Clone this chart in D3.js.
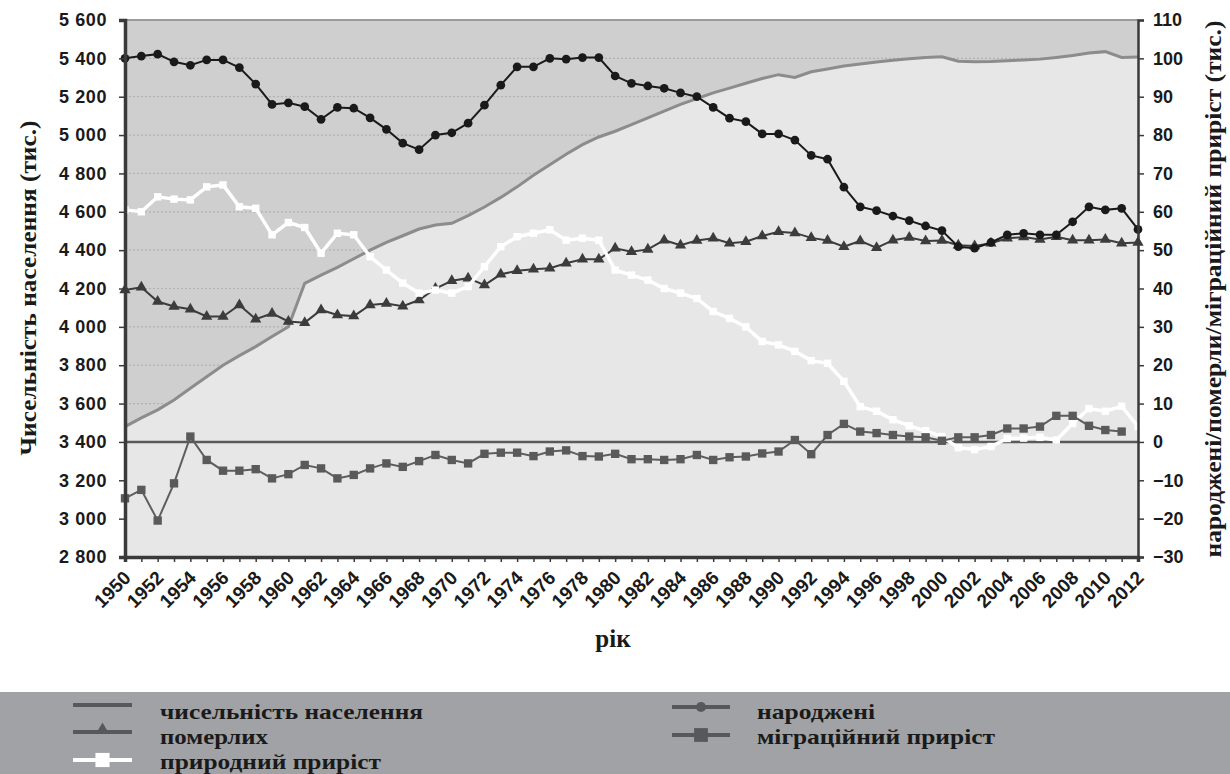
<!DOCTYPE html>
<html>
<head>
<meta charset="UTF-8">
<script src="https://cdn.jsdelivr.net/npm/d3@7/dist/d3.min.js"></script>
<style>
  body { margin: 0; background: #fff; }
  .tick text { font-family: "Liberation Sans", Arial, sans-serif; font-weight: bold; fill: #1a1a1a; }
  .ttl { font-family: "Liberation Serif", "Times New Roman", serif; font-weight: bold; fill: #1a1a1a; }
</style>
</head>
<body>
<div id="chart"></div>
<script>
// роки 1950-2012
var years = d3.range(1950, 2013);

// чисельність населення (тис.), ліва вісь
var population = [3480, 3525, 3567, 3619, 3680, 3740, 3800, 3850, 3897, 3950,
  4001, 4227, 4270, 4310, 4355, 4400, 4440, 4475, 4510, 4531,
  4540, 4580, 4625, 4675, 4730, 4790, 4845, 4900, 4950, 4990,
  5020, 5055, 5090, 5125, 5160, 5190, 5220, 5245, 5270, 5295,
  5315, 5300, 5330, 5345, 5360, 5370, 5381, 5390, 5398, 5405,
  5408, 5385, 5382, 5384, 5388, 5392, 5396, 5405, 5415, 5428,
  5435, 5405, 5407];

// народжені (тис.), права вісь
var born = [100.0, 100.6, 101.1, 99.1, 98.2, 99.6, 99.6, 97.6, 93.3, 88.0,
  88.4, 87.4, 84.1, 87.2, 87.0, 84.5, 81.5, 77.9, 76.2, 80.0,
  80.6, 83.1, 87.8, 93.0, 97.8, 97.8, 100.0, 99.8, 100.2, 100.2,
  95.4, 93.5, 92.8, 92.2, 91.0, 90.0, 87.2, 84.4, 83.5, 80.3,
  80.3, 78.7, 74.7, 73.7, 66.4, 61.3, 60.3, 58.9, 57.7, 56.3,
  55.1, 50.9, 50.5, 52.0, 54.0, 54.4, 54.0, 54.0, 57.4, 61.3,
  60.5, 60.9, 55.4];

// померлих (тис.)
var died = [39.6, 40.3, 36.6, 35.3, 34.6, 32.7, 32.7, 35.7, 32.0, 33.5,
  31.4, 31.1, 34.4, 33.1, 32.8, 35.7, 36.1, 35.4, 37.0, 40.0,
  42.0, 42.7, 40.9, 43.7, 44.6, 45.0, 45.3, 46.6, 47.6, 47.6,
  50.5, 49.6, 50.2, 52.6, 51.3, 52.5, 53.1, 51.8, 52.2, 53.7,
  54.8, 54.5, 53.2, 52.5, 50.9, 52.4, 50.6, 52.6, 53.3, 52.4,
  52.5, 51.3, 51.1, 51.8, 53.1, 53.4, 52.8, 53.5, 52.6, 52.6,
  52.8, 51.8, 52.0];

// природний приріст (тис.)
var natural = [60.5, 60.0, 63.9, 63.3, 63.1, 66.5, 67.0, 61.3, 60.9, 54.0,
  57.2, 55.9, 49.2, 54.4, 54.0, 48.3, 44.8, 41.4, 38.8, 39.6,
  38.8, 40.5, 45.7, 50.9, 53.5, 54.4, 55.3, 52.6, 53.1, 52.6,
  44.8, 43.5, 42.2, 40.0, 38.8, 37.4, 34.0, 32.2, 30.0, 26.2,
  25.3, 23.6, 21.2, 20.5, 15.8, 9.2, 8.0, 5.8, 4.2, 2.9,
  1.4, -1.5, -2.0, -1.2, 0.9, 1.0, 1.2, 0.5, 4.8, 8.7,
  8.0, 9.3, 4.0];

// міграційний приріст (тис.), до 2011 року
var migration = [-14.7, -12.5, -20.5, -10.8, 1.4, -4.7, -7.5, -7.5, -7.1, -9.5,
  -8.4, -6.0, -6.9, -9.5, -8.6, -6.9, -5.6, -6.5, -5.0, -3.4,
  -4.7, -5.6, -3.1, -2.8, -2.8, -3.7, -2.5, -2.2, -3.7, -3.8,
  -3.1, -4.5, -4.5, -4.7, -4.5, -3.4, -4.7, -4.0, -3.8, -3.0,
  -2.5, 0.5, -3.2, 1.8, 4.7, 2.7, 2.3, 1.8, 1.4, 1.2,
  0.3, 1.2, 1.2, 1.8, 3.5, 3.5, 4.0, 6.8, 6.8, 4.2,
  3.1, 2.7];

var leftTicks = d3.range(2800, 5601, 200);
var rightTicks = d3.range(-30, 111, 10);
var gridTicks = d3.range(3600, 5401, 200);
var xLabelYears = d3.range(1950, 2013, 2);

var legendItems = [
  {name: "чисельність населення", kind: "pop"},
  {name: "померлих", kind: "died"},
  {name: "природний приріст", kind: "natural"},
  {name: "народжені", kind: "born"},
  {name: "міграційний приріст", kind: "migr"}
];

(function() {
var W = 1230, H = 774;
var pL = 125, pR = 1138, pT = 20, pB = 557;

var svg = d3.select("#chart").append("svg")
  .attr("width", W).attr("height", H);

var x = d3.scaleLinear().domain([1950, 2012]).range([pL, pR]);
var yL = d3.scaleLinear().domain([2800, 5600]).range([pB, pT]);
var yR = d3.scaleLinear().domain([-30, 110]).range([pB, pT]);

var spaceFmt = d3.formatLocale({decimal: ".", thousands: " ", grouping: [3], currency: ["", ""]}).format(",");

// фон
svg.append("rect").attr("x", pL).attr("y", pT)
  .attr("width", pR - pL).attr("height", pB - pT)
  .attr("fill", "#cfcfd0");

// сітка
svg.append("g").selectAll("line").data(gridTicks).enter().append("line")
  .attr("x1", pL).attr("x2", pR)
  .attr("y1", function(d) { return yL(d); }).attr("y2", function(d) { return yL(d); })
  .attr("stroke", "#b2b2b2").attr("stroke-width", 1.2)
  .attr("stroke-dasharray", "2,2");

// площа населення
var area = d3.area()
  .x(function(d, i) { return x(years[i]); })
  .y0(pB)
  .y1(function(d) { return yL(d); });
svg.append("path").datum(population)
  .attr("d", area).attr("fill", "#e7e7e8");

var popLine = d3.line()
  .x(function(d, i) { return x(years[i]); })
  .y(function(d) { return yL(d); });
svg.append("path").datum(population)
  .attr("d", popLine).attr("fill", "none")
  .attr("stroke", "#8c8c8c").attr("stroke-width", 3);

// верхня межа
svg.append("line").attr("x1", pL).attr("x2", pR)
  .attr("y1", pT).attr("y2", pT)
  .attr("stroke", "#9a9a9a").attr("stroke-width", 2);

// нульова лінія
svg.append("line").attr("x1", pL).attr("x2", pR)
  .attr("y1", yR(0)).attr("y2", yR(0))
  .attr("stroke", "#5a5a5a").attr("stroke-width", 2.5);

function rLine(arr) {
  return d3.line()
    .x(function(d, i) { return x(years[i]); })
    .y(function(d) { return yR(d); })(arr);
}

function drawSeries(arr, color, width, symbol, size, fill) {
  var g = svg.append("g");
  g.append("path").attr("d", rLine(arr)).attr("fill", "none")
    .attr("stroke", color).attr("stroke-width", width);
  g.selectAll("path.m").data(arr).enter().append("path")
    .attr("class", "m")
    .attr("d", d3.symbol().type(symbol).size(size))
    .attr("transform", function(d, i) { return "translate(" + x(years[i]) + "," + yR(d) + ")"; })
    .attr("fill", fill);
}

drawSeries(died, "#3c3c3c", 2, d3.symbolTriangle, 55, "#3c3c3c");
drawSeries(natural, "#ffffff", 3.5, d3.symbolSquare, 55, "#ffffff");
drawSeries(migration, "#5e5e5e", 2, d3.symbolSquare, 70, "#5a5a5a");
drawSeries(born, "#1a1a1a", 2, d3.symbolCircle, 60, "#1a1a1a");

// осі
var xAxis = d3.axisBottom(x).tickValues(years).tickSize(5).tickFormat("");
svg.append("g").attr("transform", "translate(0," + pB + ")").call(xAxis)
  .call(function(g) {
    g.select(".domain").attr("stroke", "#3a3a3a").attr("stroke-width", 3.5);
    g.selectAll(".tick line").attr("stroke", "#3a3a3a").attr("stroke-width", 1.5);
  });

svg.append("g").selectAll("text").data(xLabelYears).enter().append("text")
  .attr("transform", function(d) { return "translate(" + (x(d) + 7) + "," + (pB + 22) + ") rotate(-45)"; })
  .attr("text-anchor", "end")
  .attr("font-family", "Liberation Sans, Arial, sans-serif")
  .attr("font-weight", "bold")
  .attr("font-size", 19)
  .attr("fill", "#1a1a1a")
  .text(function(d) { return d; });

var leftAxis = d3.axisLeft(yL).tickValues(leftTicks).tickSize(6).tickPadding(12)
  .tickFormat(spaceFmt);
svg.append("g").attr("transform", "translate(" + pL + ",0)").call(leftAxis)
  .call(function(g) {
    g.select(".domain").attr("stroke", "#3a3a3a").attr("stroke-width", 3.5);
    g.selectAll(".tick line").attr("stroke", "#3a3a3a").attr("stroke-width", 1.5);
    g.selectAll(".tick text").attr("font-size", 18).attr("letter-spacing", "0.6px");
  });

var rightAxis = d3.axisRight(yR).tickValues(rightTicks).tickSize(6).tickPadding(9);
svg.append("g").attr("transform", "translate(" + pR + ",0)").call(rightAxis)
  .call(function(g) {
    g.select(".domain").attr("stroke", "#3a3a3a").attr("stroke-width", 2.5);
    g.selectAll(".tick line").attr("stroke", "#3a3a3a").attr("stroke-width", 1.5);
    g.selectAll(".tick text").attr("font-size", 18);
  });

// підписи осей
svg.append("text").attr("class", "ttl")
  .attr("transform", "translate(36,288) rotate(-90)")
  .attr("text-anchor", "middle").attr("font-size", 24)
  .attr("textLength", 335).attr("lengthAdjust", "spacingAndGlyphs")
  .text("Чисельність населення (тис.)");

svg.append("text").attr("class", "ttl")
  .attr("transform", "translate(1221,289) rotate(-90)")
  .attr("text-anchor", "middle").attr("font-size", 24)
  .attr("textLength", 537).attr("lengthAdjust", "spacingAndGlyphs")
  .text("народжені/померли/міграційний приріст (тис.)");

svg.append("text").attr("class", "ttl")
  .attr("x", 613).attr("y", 647)
  .attr("text-anchor", "middle").attr("font-size", 25)
  .text("рік");

// легенда
var lg = svg.append("g");
lg.append("rect").attr("x", 0).attr("y", 692).attr("width", W).attr("height", H - 692)
  .attr("fill", "#a1a2a5");

var legendPos = [
  {sx: 73, ex: 132, ly: 705, tx: 160, ty: 719, w: 263},
  {sx: 73, ex: 132, ly: 732, tx: 160, ty: 744, w: 108},
  {sx: 73, ex: 132, ly: 760, tx: 160, ty: 769, w: 221},
  {sx: 672, ex: 730, ly: 707, tx: 757, ty: 719, w: 118},
  {sx: 672, ex: 730, ly: 735, tx: 757, ty: 744, w: 238}
];

legendItems.forEach(function(item, i) {
  var p = legendPos[i];
  var g = lg.append("g");
  var col = item.kind === "natural" ? "#ffffff" : "#58585a";
  g.append("line").attr("x1", p.sx).attr("x2", p.ex).attr("y1", p.ly).attr("y2", p.ly)
    .attr("stroke", col).attr("stroke-width", 4);
  var cx = (p.sx + p.ex) / 2;
  var sym = null, size = 0;
  if (item.kind === "died") { sym = d3.symbolTriangle; size = 75; }
  if (item.kind === "natural") { sym = d3.symbolSquare; size = 200; }
  if (item.kind === "born") { sym = d3.symbolCircle; size = 80; }
  if (item.kind === "migr") { sym = d3.symbolSquare; size = 190; }
  if (sym) {
    g.append("path").attr("d", d3.symbol().type(sym).size(size)())
      .attr("transform", "translate(" + cx + "," + (p.ly - (item.kind === "died" ? 2 : 0)) + ")")
      .attr("fill", col);
  }
  g.append("text").attr("class", "ttl")
    .attr("x", p.tx).attr("y", p.ty)
    .attr("font-size", 22)
    .attr("textLength", p.w).attr("lengthAdjust", "spacingAndGlyphs")
    .text(item.name);
});
})();
</script>
</body>
</html>
